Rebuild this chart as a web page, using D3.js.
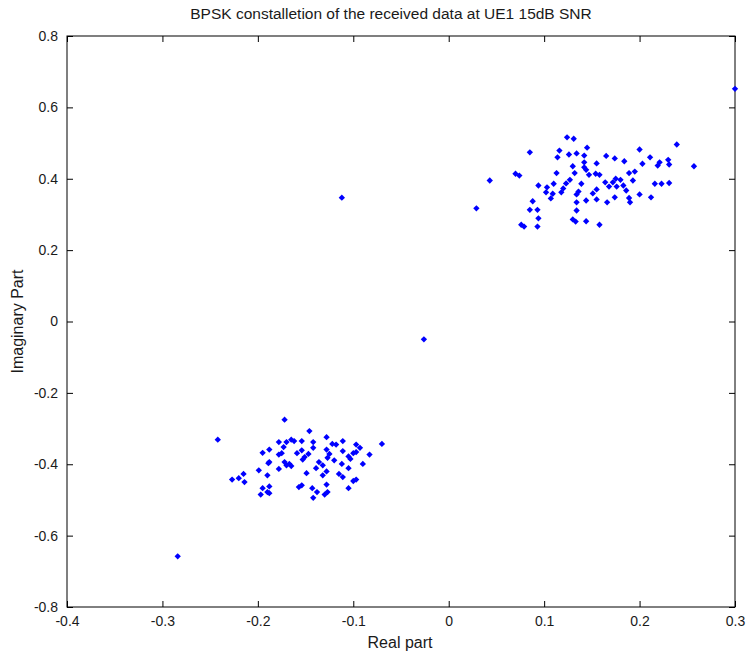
<!DOCTYPE html>
<html>
<head>
<meta charset="utf-8">
<script src="https://cdn.jsdelivr.net/npm/d3@7"></script>
<style>
  html, body { margin: 0; padding: 0; background: #fff; }
  svg { display: block; }
  text { font-family: "Liberation Sans", Arial, sans-serif; fill: #1a1a1a; }
</style>
</head>
<body>
<svg id="chart" width="746" height="652"></svg>
<script>
const title = "BPSK constalletion of the received data at UE1 15dB SNR";
const xLabel = "Real part";
const yLabel = "Imaginary Part";
const xTicks = [-0.4, -0.3, -0.2, -0.1, 0, 0.1, 0.2, 0.3];
const yTicks = [-0.8, -0.6, -0.4, -0.2, 0, 0.2, 0.4, 0.6, 0.8];

// Cluster near +1 (upper right): real parts and imaginary parts
const upperReal = [0.124,0.131,0.239,0.145,0.200,0.085,0.116,0.126,0.134,0.142,0.114,0.165,0.174,0.184,0.211,0.230,0.221,0.142,0.155,0.203,0.231,0.130,0.142,0.219,0.257,0.144,0.113,0.132,0.154,0.158,0.147,0.070,0.074,0.189,0.195,0.043,0.127,0.175,0.180,0.193,0.164,0.172,0.123,0.139,0.216,0.223,0.231,0.094,0.110,0.103,0.120,0.168,0.176,0.183,0.186,0.102,0.118,0.136,0.155,0.109,0.107,0.134,0.151,0.200,0.212,0.174,0.189,0.088,0.134,0.144,0.155,0.166,0.190,0.029,0.085,0.093,0.134,0.094,0.130,0.133,0.144,0.076,0.079,0.093,0.158];
const upperImag = [0.516,0.512,0.496,0.487,0.482,0.474,0.479,0.468,0.471,0.465,0.460,0.464,0.457,0.449,0.460,0.453,0.446,0.446,0.443,0.442,0.440,0.435,0.432,0.437,0.435,0.425,0.416,0.416,0.414,0.411,0.411,0.414,0.409,0.416,0.420,0.395,0.397,0.400,0.397,0.395,0.390,0.390,0.387,0.386,0.386,0.386,0.388,0.381,0.386,0.376,0.373,0.378,0.378,0.381,0.367,0.362,0.362,0.364,0.370,0.358,0.345,0.356,0.359,0.356,0.348,0.348,0.346,0.337,0.334,0.339,0.342,0.334,0.334,0.317,0.313,0.313,0.311,0.289,0.286,0.280,0.281,0.271,0.266,0.266,0.271];

// Cluster near -1 (lower left)
const lowerReal = [-0.172,-0.242,-0.146,-0.128,-0.070,-0.178,-0.170,-0.165,-0.162,-0.154,-0.142,-0.122,-0.118,-0.111,-0.097,-0.093,-0.195,-0.188,-0.173,-0.175,-0.178,-0.159,-0.154,-0.147,-0.142,-0.128,-0.125,-0.111,-0.100,-0.105,-0.097,-0.083,-0.189,-0.188,-0.172,-0.167,-0.165,-0.153,-0.151,-0.127,-0.120,-0.136,-0.132,-0.103,-0.112,-0.090,-0.178,-0.199,-0.149,-0.139,-0.128,-0.132,-0.115,-0.111,-0.105,-0.190,-0.227,-0.220,-0.215,-0.214,-0.100,-0.097,-0.195,-0.188,-0.157,-0.143,-0.128,-0.105,-0.197,-0.190,-0.188,-0.142,-0.138,-0.130,-0.127,-0.154,-0.170];
const lowerImag = [-0.275,-0.331,-0.307,-0.324,-0.343,-0.338,-0.338,-0.331,-0.335,-0.335,-0.338,-0.343,-0.345,-0.335,-0.345,-0.354,-0.368,-0.359,-0.352,-0.369,-0.373,-0.369,-0.361,-0.371,-0.354,-0.359,-0.371,-0.363,-0.369,-0.378,-0.366,-0.373,-0.397,-0.394,-0.394,-0.399,-0.405,-0.387,-0.380,-0.382,-0.389,-0.394,-0.403,-0.385,-0.399,-0.399,-0.413,-0.417,-0.425,-0.411,-0.420,-0.431,-0.427,-0.436,-0.411,-0.431,-0.443,-0.439,-0.427,-0.450,-0.447,-0.443,-0.467,-0.462,-0.464,-0.467,-0.457,-0.467,-0.485,-0.478,-0.481,-0.494,-0.478,-0.485,-0.478,-0.459,-0.403];

// Outliers
const outlierReal = [0.300, -0.112, -0.026, -0.284];
const outlierImag = [0.652, 0.347, -0.050, -0.658];

const points = [];
upperReal.forEach((r, i) => points.push([r, upperImag[i]]));
lowerReal.forEach((r, i) => points.push([r, lowerImag[i]]));
outlierReal.forEach((r, i) => points.push([r, outlierImag[i]]));

const svg = d3.select("#chart");
const margin = { left: 67, right: 11, top: 36, bottom: 45 };
const W = 746, H = 652;
const x = d3.scaleLinear().domain([-0.4, 0.3]).range([margin.left, W - margin.right]);
const y = d3.scaleLinear().domain([-0.8, 0.8]).range([H - margin.bottom, margin.top]);

const fmt = d => (Math.abs(d) < 1e-9 ? "0" : String(+d.toFixed(1)));
const tickLen = 6;

// Box
svg.append("rect")
  .attr("x", x(-0.4)).attr("y", y(0.8))
  .attr("width", x(0.3) - x(-0.4)).attr("height", y(-0.8) - y(0.8))
  .attr("fill", "none").attr("stroke", "#000").attr("stroke-width", 1);

function styleAxis(g) {
  g.select(".domain").remove();
  g.selectAll(".tick line").attr("stroke", "#000");
  g.selectAll(".tick text").attr("font-size", 14).attr("fill", "#1a1a1a");
}

// Bottom axis (ticks inward)
svg.append("g").attr("transform", `translate(0,${y(-0.8)})`)
  .call(d3.axisBottom(x).tickValues(xTicks).tickFormat(fmt).tickSizeInner(-tickLen).tickSizeOuter(0).tickPadding(9))
  .call(styleAxis);
// Top axis ticks
svg.append("g").attr("transform", `translate(0,${y(0.8)})`)
  .call(d3.axisTop(x).tickValues(xTicks).tickFormat("").tickSizeInner(-tickLen).tickSizeOuter(0))
  .call(styleAxis);
// Left axis
svg.append("g").attr("transform", `translate(${x(-0.4)},0)`)
  .call(d3.axisLeft(y).tickValues(yTicks).tickFormat(fmt).tickSizeInner(-tickLen).tickSizeOuter(0).tickPadding(9))
  .call(styleAxis);
// Right axis ticks
svg.append("g").attr("transform", `translate(${x(0.3)},0)`)
  .call(d3.axisRight(y).tickValues(yTicks).tickFormat("").tickSizeInner(-tickLen).tickSizeOuter(0))
  .call(styleAxis);

// Points
const sym = d3.symbol().type(d3.symbolSquare).size(20);
svg.append("g").selectAll("path").data(points).join("path")
  .attr("d", sym)
  .attr("transform", d => `translate(${x(d[0])},${y(d[1])}) rotate(45)`)
  .attr("fill", "#0000ff");

// Title and labels
svg.append("text").attr("x", 391).attr("y", 19)
  .attr("text-anchor", "middle").attr("font-size", 15.5).text(title);
svg.append("text").attr("x", 400).attr("y", 648)
  .attr("text-anchor", "middle").attr("font-size", 16).text(xLabel);
svg.append("text")
  .attr("transform", `translate(23,${(y(-0.8) + y(0.8)) / 2}) rotate(-90)`)
  .attr("text-anchor", "middle").attr("font-size", 16).text(yLabel);
</script>
</body>
</html>
